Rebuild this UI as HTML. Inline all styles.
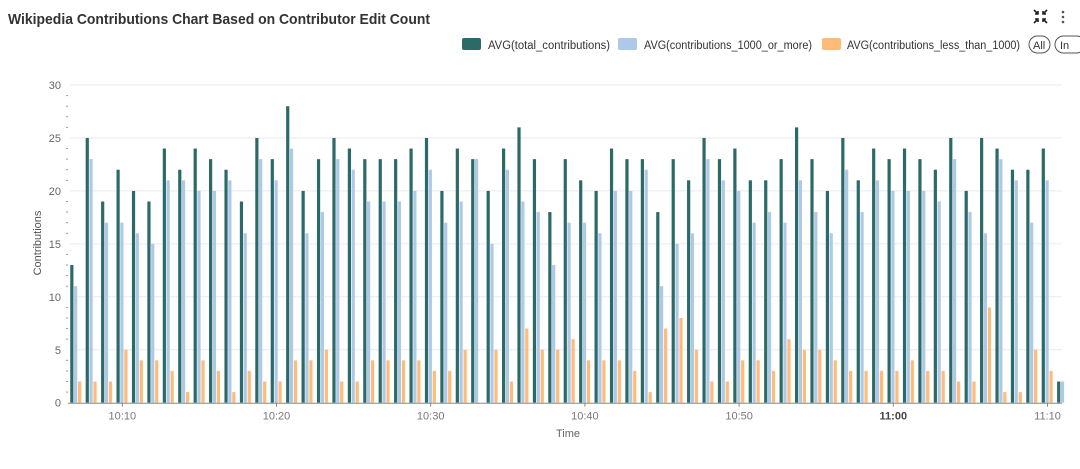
<!DOCTYPE html>
<html><head><meta charset="utf-8"><style>
html,body{margin:0;padding:0;background:#fff;width:1080px;height:469px;overflow:hidden;font-family:"Liberation Sans",sans-serif}
</style></head><body>
<svg id="chart" width="1080" height="469" xmlns="http://www.w3.org/2000/svg" font-family="Liberation Sans, sans-serif">
<text x="8" y="24" font-size="15" font-weight="bold" fill="#333" textLength="422" lengthAdjust="spacingAndGlyphs">Wikipedia Contributions Chart Based on Contributor Edit Count</text>
<g stroke="#222" stroke-width="1.6" fill="none">
<path d="M1034 10 l4 4 M1038 11 v3 h-3 M1047 10 l-4 4 M1043 11 v3 h3 M1034 23 l4 -4 M1038 22 v-3 h-3 M1047 23 l-4 -4 M1043 22 v-3 h3"/>
</g>
<g fill="#555"><circle cx="1063" cy="12" r="1.3"/><circle cx="1063" cy="17" r="1.3"/><circle cx="1063" cy="22" r="1.3"/></g>
<g fill="#333">
<g><rect x="462" y="38" width="19" height="12" rx="2" fill="#2c6a68"/><text x="488" y="49" font-size="11.5" textLength="122" lengthAdjust="spacingAndGlyphs">AVG(total_contributions)</text></g>
<g><rect x="618" y="38" width="19" height="12" rx="2" fill="#aec8e8"/><text x="644" y="49" font-size="11.5" textLength="168" lengthAdjust="spacingAndGlyphs">AVG(contributions_1000_or_more)</text></g>
<g><rect x="822" y="38" width="19" height="12" rx="2" fill="#ffbb78"/><text x="847" y="49" font-size="11.5" textLength="173" lengthAdjust="spacingAndGlyphs">AVG(contributions_less_than_1000)</text></g>
<g><rect x="1029" y="36" width="21" height="17" rx="8.5" fill="none" stroke="#555"/><text x="1033" y="49" font-size="11">All</text></g>
<g><rect x="1055" y="36" width="30" height="17" rx="8.5" fill="none" stroke="#555"/><text x="1060" y="49" font-size="11">In</text></g>
</g>
<g id="grid"></g><g id="bars"></g><g id="axes"></g>
<text transform="translate(41,243) rotate(-90)" text-anchor="middle" font-size="11" fill="#555">Contributions</text>
<text x="568" y="437" text-anchor="middle" font-size="11" fill="#666">Time</text>
</svg>
<script>
const total=[13,25,19,22,20,19,24,22,24,23,22,19,25,23,28,20,23,25,24,23,23,23,24,25,20,24,23,20,24,26,23,18,23,21,20,24,23,23,18,23,21,25,23,24,21,21,23,26,23,20,25,21,24,23,24,23,22,25,20,25,24,22,22,24,2];
const more1000=[11,23,17,17,16,15,21,21,20,20,21,16,23,21,24,16,18,23,22,19,19,19,20,22,17,19,23,15,22,19,18,13,17,17,16,20,20,22,11,15,16,23,21,20,17,18,17,21,18,16,22,18,21,20,20,20,19,23,18,16,23,21,17,21,2];
const less1000=[2,2,2,5,4,4,3,1,4,3,1,3,2,2,4,4,5,2,2,4,4,4,4,3,3,5,0,5,2,7,5,5,6,4,4,4,3,1,7,8,5,2,2,4,4,3,6,5,5,4,3,3,3,3,4,3,3,2,2,9,1,1,5,3,0];
const startMinute=607; // 10:07 as minutes since midnight
const yTicks=[0,5,10,15,20,25,30];
const xTickLabels=["10:10","10:20","10:30","10:40","10:50","11:00","11:10"];
const NS="http://www.w3.org/2000/svg";
const x0=68,x1=1062,yBase=402.7,yTop=85;
function yS(v){return yBase-(yBase-yTop)*v/30;}
function xMin(m){return 122.3+(m-610)*15.42;}
function mk(tag,attrs,parent){const e=document.createElementNS(NS,tag);for(const k in attrs)e.setAttribute(k,attrs[k]);parent.appendChild(e);return e;}
const grid=document.getElementById('grid'),bars=document.getElementById('bars'),axes=document.getElementById('axes');
yTicks.forEach(t=>{
 if(t>0){const l=mk('line',{x1:70,x2:x1,y1:yS(t),y2:yS(t),stroke:'#e6eaf2','stroke-width':1},grid);
 
 }
 const tx=mk('text',{x:61,y:yS(t)+4,'text-anchor':'end','font-size':11,fill:'#666'},axes);tx.textContent=t;
 
 
});
for(let v=1;v<30;v++){if(v%5===0)continue;mk('line',{x1:66,x2:68,y1:yS(v),y2:yS(v),stroke:'#999','stroke-width':1},axes);}
const series=[[total,'#2c6a68',0],[more1000,'#aec8e8',3.8],[less1000,'#ffbb78',7.8]];
total.forEach((_,i)=>{
 const cx=xMin(startMinute+i);const left=cx-5.8;
 series.forEach(([arr,col,off])=>{
  const v=arr[i]||0;if(v<=0)return;
  const r=mk('rect',{x:left+off,y:yS(v),width:3.2,height:yBase-yS(v),fill:col},bars);
  
  
 });
});
mk('line',{x1:x0,x2:x1,y1:yBase+0.5,y2:yBase+0.5,stroke:'#888','stroke-width':1},axes);
xTickLabels.forEach(lbl=>{
 const [h,m]=lbl.split(':').map(Number);const x=xMin(h*60+m);
 mk('line',{x1:x,x2:x,y1:yBase,y2:yBase+4,stroke:'#888'},axes);
 const t=mk('text',{x:x,y:yBase+17,'text-anchor':'middle','font-size':11,fill:lbl==='11:00'?'#444':'#777','font-weight':lbl==='11:00'?'bold':'normal'},axes);
 t.textContent=lbl;
 
 
});
</script>
</body></html>
